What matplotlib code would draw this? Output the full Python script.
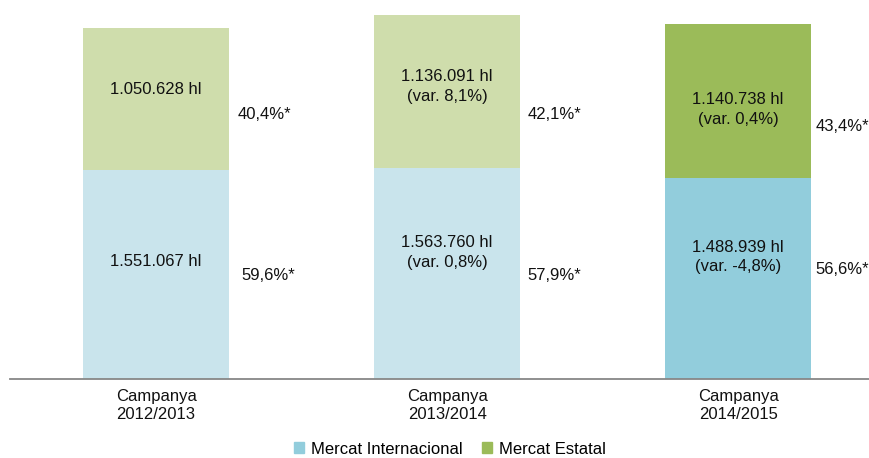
import matplotlib.pyplot as plt
from matplotlib.patches import Patch

plt.rcParams['font.family'] = ['Liberation Sans', 'DejaVu Sans']

# dades
categories = ["Campanya\n2012/2013", "Campanya\n2013/2014", "Campanya\n2014/2015"]
internacional = [1551067, 1563760, 1488939]
estatal = [1050628, 1136091, 1140738]
label_int = ["1.551.067 hl", "1.563.760 hl\n(var. 0,8%)", "1.488.939 hl\n(var. -4,8%)"]
label_est = ["1.050.628 hl", "1.136.091 hl\n(var. 8,1%)", "1.140.738 hl\n(var. 0,4%)"]
pct_int = ["59,6%*", "57,9%*", "56,6%*"]
pct_est = ["40,4%*", "42,1%*", "43,4%*"]

# colors: les dues primeres campanyes en to clar, l'última en to fort
col_int = ["#C9E4EC", "#C9E4EC", "#92CDDC"]
col_est = ["#CFDDAC", "#CFDDAC", "#9BBB59"]

fig = plt.figure(figsize=(8.7, 4.58), dpi=100)
ax = fig.add_axes([10 / 870, 79 / 458, 860 / 870, 379 / 458])

x = list(range(len(categories)))
w = 0.502
ax.bar(x, internacional, width=w, color=col_int, zorder=2)
ax.bar(x, estatal, width=w, bottom=internacional, color=col_est, zorder=2)

ax.set_xlim(-0.502, 2.453)
ax.set_ylim(0, 2.81e6)

# etiquetes dins les barres (una mica desplaçades del centre del tram)
off_int = [0.093e6, 0.156e6, 0.16e6]
off_est = [0.067e6, 0.037e6, -0.06e6]
for i in x:
    yi = internacional[i] / 2 + off_int[i]
    ye = internacional[i] + estatal[i] / 2 + off_est[i]
    ax.text(i, yi, label_int[i], ha="center", va="center", fontsize=12,
            linespacing=1.4, color="#111111")
    ax.text(i, ye, label_est[i], ha="center", va="center", fontsize=12,
            linespacing=1.4, color="#111111")

# percentatges a la dreta de cada barra
pct_int_y = [0.77e6, 0.77e6, 0.81e6]
pct_est_y = [1.96e6, 1.96e6, 1.87e6]
dx_int = [0.043, 0.025, 0.015]
dx_est = [0.028, 0.025, 0.015]
for i in x:
    ax.text(i + w / 2 + dx_int[i], pct_int_y[i], pct_int[i], ha="left",
            va="center", fontsize=12, color="#111111")
    ax.text(i + w / 2 + dx_est[i], pct_est_y[i], pct_est[i], ha="left",
            va="center", fontsize=12, color="#111111")

for s in ["top", "right", "left"]:
    ax.spines[s].set_visible(False)
ax.spines["bottom"].set_color("#878787")
ax.spines["bottom"].set_linewidth(1.3)
ax.set_yticks([])
ax.set_xticks(x)
ax.set_xticklabels(categories, fontsize=12, linespacing=1.3, color="#111111")
ax.tick_params(axis="x", length=0, pad=7)

handles = [Patch(color="#92CDDC", label="Mercat Internacional"),
           Patch(color="#9BBB59", label="Mercat Estatal")]
fig.legend(handles=handles, loc="center", bbox_to_anchor=(450 / 870, 9 / 458),
           ncol=2, frameon=False, fontsize=12, handlelength=0.6,
           handleheight=0.6, handletextpad=0.4, columnspacing=1.2,
           borderpad=0.1)

fig.savefig("out.png", dpi=100)
